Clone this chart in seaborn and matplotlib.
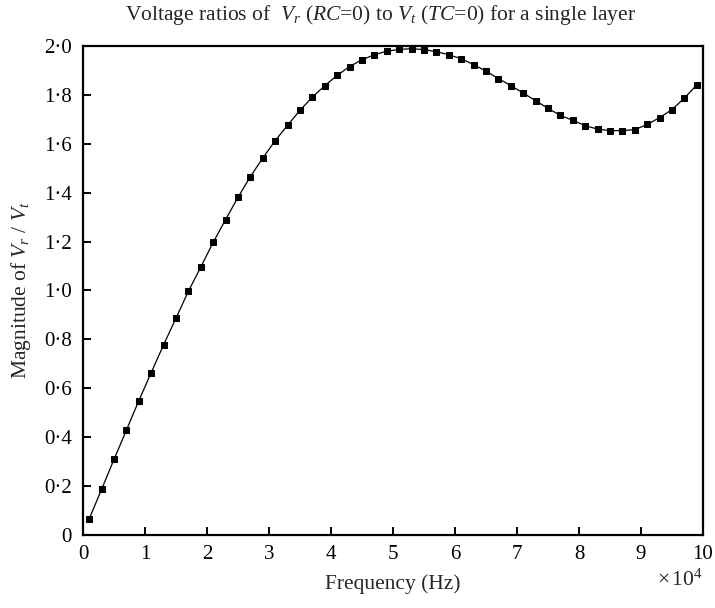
import matplotlib
matplotlib.use("Agg")
import matplotlib.pyplot as plt
from matplotlib.ticker import FuncFormatter, MultipleLocator
import numpy as np
import pandas as pd
import seaborn as sns

# Frequency samples (units of 10^4 Hz) and magnitude of Vr / Vt
freq = [0.1, 0.3, 0.5, 0.7, 0.9, 1.1, 1.3, 1.5, 1.7, 1.9,
        2.1, 2.3, 2.5, 2.7, 2.9, 3.1, 3.3, 3.5, 3.7, 3.9,
        4.1, 4.3, 4.5, 4.7, 4.9, 5.1, 5.3, 5.5, 5.7, 5.9,
        6.1, 6.3, 6.5, 6.7, 6.9, 7.1, 7.3, 7.5, 7.7, 7.9,
        8.1, 8.3, 8.5, 8.7, 8.9, 9.1, 9.3, 9.5, 9.7, 9.9]
magnitude = [0.066, 0.187, 0.309, 0.429, 0.549, 0.664, 0.778, 0.887, 0.997, 1.096,
             1.197, 1.290, 1.381, 1.466, 1.542, 1.613, 1.676, 1.737, 1.791, 1.838,
             1.880, 1.916, 1.944, 1.964, 1.979, 1.986, 1.989, 1.985, 1.977, 1.964,
             1.948, 1.924, 1.897, 1.867, 1.838, 1.808, 1.776, 1.745, 1.716, 1.696,
             1.674, 1.660, 1.654, 1.654, 1.658, 1.679, 1.707, 1.740, 1.787, 1.841]

x_ticks = [0, 1, 2, 3, 4, 5, 6, 7, 8, 9, 10]

df = pd.DataFrame({"freq": freq, "mag": magnitude})

sns.set_style("ticks")
plt.rcParams["font.family"] = ["Liberation Serif", "DejaVu Serif"]
plt.rcParams["mathtext.fontset"] = "custom"
plt.rcParams["mathtext.rm"] = "Liberation Serif"
plt.rcParams["mathtext.it"] = "Liberation Serif:italic"
plt.rcParams["mathtext.bf"] = "Liberation Serif:bold"

fig = plt.figure(figsize=(7.15, 6.08), dpi=100)
ax = fig.add_axes([83 / 715, 1 - 535 / 608, 620 / 715, 489 / 608])

sns.lineplot(data=df, x="freq", y="mag", ax=ax, color="black", linewidth=0.9,
             marker="s", markersize=3.9, markeredgecolor="black",
             markerfacecolor="black")

ax.set_xlim(0, 10)
ax.set_ylim(0, 2.0)
ax.set_xticks(x_ticks)
ax.yaxis.set_major_locator(MultipleLocator(0.2))


def dot_fmt(v, pos):
    if abs(v) < 1e-9:
        return "0"
    return f"{v:.1f}".replace(".", "\u00b7")


ax.yaxis.set_major_formatter(FuncFormatter(dot_fmt))
ax.xaxis.set_major_formatter(FuncFormatter(lambda v, p: f"{int(round(v))}"))

for side in ["left", "right", "top", "bottom"]:
    ax.spines[side].set_visible(True)
    ax.spines[side].set_linewidth(1.6)
    ax.spines[side].set_color("black")

ax.tick_params(axis="both", direction="in", length=5.5, width=1.4,
               labelsize=15, colors="black")
ax.tick_params(axis="x", pad=7.5)
ax.tick_params(axis="y", pad=8)
ax.tick_params(top=False, right=False)

ax.set_xlabel("Frequency (Hz)", fontsize=15.5, labelpad=7)
ax.set_ylabel(r"Magnitude of $V_r$ / $V_t$", fontsize=15.5, labelpad=8)

fig.text(381 / 715, 1 - 15 / 608,
         r"Voltage ratios of  $V_r$ ($RC$=0) to $V_t$ ($TC$=0) for a single layer",
         ha="center", va="center", fontsize=15.5)
fig.text(680 / 715, 1 - 580 / 608, r"$\times\,10^4$", ha="center", va="center",
         fontsize=15.5)

fig.savefig("out.png", dpi=100, facecolor="white")
